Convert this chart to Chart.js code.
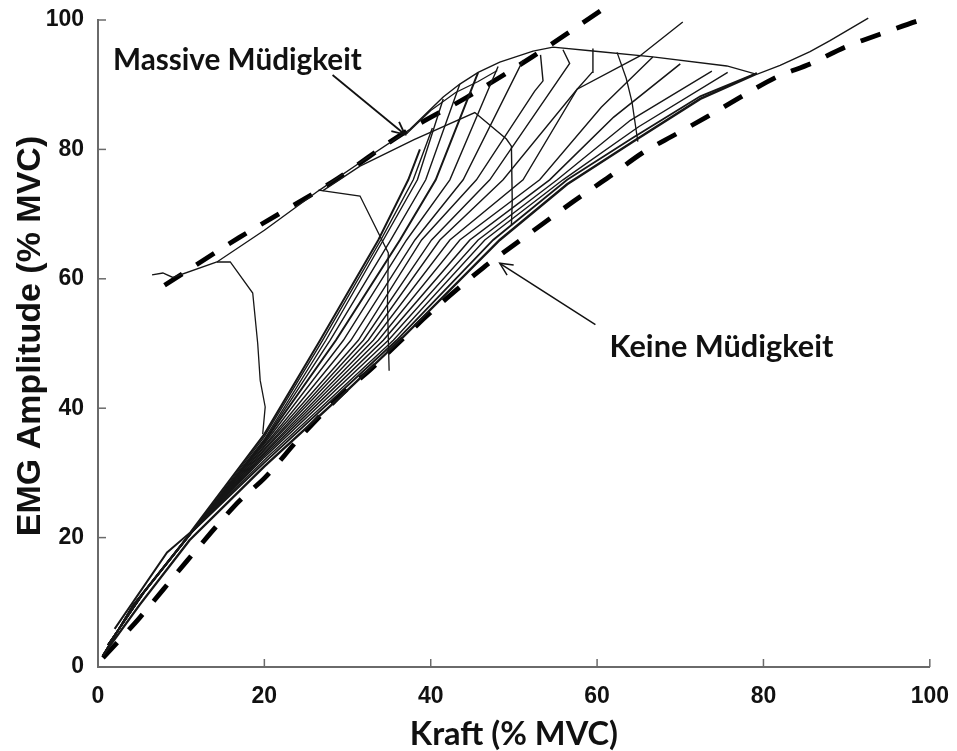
<!DOCTYPE html>
<html lang="de">
<head>
<meta charset="UTF-8">
<title>EMG Amplitude vs Kraft</title>
<script src="https://cdn.jsdelivr.net/npm/chart.js"></script>
<style>
  html, body { margin: 0; padding: 0; background: #fff; }
  #wrap { width: 957px; height: 751px; }
</style>
</head>
<body>
<div id="wrap"><canvas id="emg" width="957" height="751"></canvas></div>
<script>
// tick values
const xTicks = [0, 20, 40, 60, 80, 100];
const yTicks = [0, 20, 40, 60, 80, 100];

// dashed reference lines
const dashedUpper = [[8, 59], [17, 66.4], [28.2, 75], [36.7, 82.5], [44.4, 88.1], [52.2, 94.3], [60.5, 101.5]];
const dashedLower = [[0.6, 1.4], [5, 7.6], [10.7, 16.4], [16.7, 25.3], [20.1, 29.3], [24.3, 35.5], [29.4, 42.3],
  [32.7, 45.9], [39.9, 54.7], [46.3, 61.7], [50.4, 65.6], [57.1, 71.9], [61.5, 75.8], [65.5, 79.5], [69.4, 82.3],
  [73.3, 85.1], [77.4, 88.2], [81.6, 91.2], [85.6, 93.2], [89.8, 95.8], [94, 97.8], [98.4, 99.8], [100, 100.3]];

// no fatigue base trace
const baseLine = [[0.6, 1.8], [5, 9.6], [11, 19.6], [20, 31], [30, 42.8], [36.3, 50.5], [48.3, 66], [56.4, 74.6],
  [64.3, 81.2], [72.4, 87.8], [79.2, 91.7]];

// massive fatigue trace, running into the upper envelope and the tail
const envelope = [[6.5, 60.6], [7.8, 60.9], [9, 60.2], [14.3, 62.6], [20, 67.5], [26.5, 73.6], [32, 78.4], [37.5, 83.1],
  [41.5, 88.1], [43.5, 90.1], [45.7, 91.9], [48.3, 93.5], [52.3, 95.2], [54.7, 95.8], [59.5, 95.2], [66.7, 94.3],
  [75.6, 92.9], [79.2, 91.6], [82, 93], [85.6, 95.1], [88, 96.8], [92.6, 100.3]];
const envelope2 = [[37, 82.3], [40, 86], [43, 88.8], [45.7, 90.5], [48, 92.2]];
const massiveInner = [[27, 73.6], [31.5, 77.4], [38, 81.5], [45.3, 85.7], [49.1, 81.6], [49.7, 80.5], [49.8, 72], [49.7, 68.2]];

// drop traces
const trace16 = [[14.3, 62.6], [15.9, 62.6], [18.6, 57.8], [19.2, 50], [19.5, 44.3], [20.1, 40.2], [19.8, 36]];
const trace27 = [[26.5, 73.7], [31.5, 72.8], [34.9, 64], [34.8, 56], [35, 45.8]];
const trace65 = [[62.4, 95], [63.5, 91], [64.2, 87.3], [64.9, 81.2]];

// start pieces of the ramps near the origin
const startHigh = [[2, 5.9], [8.3, 17.7], [11.1, 20.8]];
const startMid = [[1.2, 3.4], [5.5, 11.5], [11, 20.4]];
const startLow = [[0.6, 1.8], [4.2, 9.5], [11, 20.5]];

// ramps (upper part)
const fanA1 = [[20, 36], [26.7, 50.5], [33.7, 66], [37.3, 75.3], [38.7, 80]];
const fanA2 = [[20, 35.6], [27, 50.5], [34, 66], [37.9, 75.3], [40.2, 83.3]];
const fanA3 = [[20, 35.2], [27.4, 50.5], [34.3, 66], [38.4, 75.3], [41.5, 87.8]];
const fanA4 = [[20, 35], [27.9, 50.5], [35.2, 66], [39.4, 75.3], [43.5, 90.1]];
const fanA5 = [[20, 34.8], [28.6, 50.5], [36.3, 66], [40.6, 75.3], [45.7, 91.9]];
const fanB1 = [[20, 34.5], [29.5, 50.5], [37.1, 66], [42.3, 75.3], [48.1, 92.8]];
const fanB2 = [[20, 34.2], [30.4, 50.5], [38.1, 66], [43.9, 75.3], [51.1, 93.8]];
const fanB3 = [[20, 34], [31.3, 50.5], [38.9, 66], [45.5, 75.3], [52.5, 89], [53.5, 90.6], [53.2, 94.6]];
const fanB4 = [[20, 33.7], [31.9, 50.5], [40.1, 66], [47.1, 75.3], [56.7, 93.3], [55.9, 95.4]];
const fanB5 = [[20, 33.5], [32.5, 50.5], [41.1, 66], [48.7, 75.3], [57.6, 89.3], [59.4, 91.9], [59.5, 95.6]];
const fanB6 = [[20, 33.2], [33.1, 50.5], [42.3, 66], [51.1, 75.3], [57.6, 89.3], [65.1, 94.4], [70.3, 99.7]];
const fanB7 = [[20, 33], [33.7, 50.5], [43.5, 66], [53.1, 75.3], [60.5, 86.5], [66.7, 94.3]];
const fanB8 = [[20, 32.7], [34.3, 50.5], [44.7, 66], [54.3, 75.3], [62, 85], [70, 93.2]];
const fanB9 = [[20, 32.4], [34.9, 50.5], [45.7, 66], [55.2, 75.3], [64, 84.5], [73.8, 92.1]];
const fanC1 = [[20, 32], [35.5, 50.5], [46.5, 66], [55.9, 75.3], [65, 83.5], [75.7, 91.9]];
const fanC2 = [[20, 31.6], [35.9, 50.5], [47.5, 66], [56.4, 75.3], [64.3, 81.8], [72.4, 88.2], [79.2, 91.8]];

const ramps = [
  [startHigh, fanA1, 2], [startMid, fanA2, 1.4], [startMid, fanA3, 1.4], [startMid, fanA4, 1.4], [startMid, fanA5, 2],
  [startMid, fanB1, 1.4], [startMid, fanB2, 1.4], [startMid, fanB3, 1.4], [startMid, fanB4, 1.4], [startMid, fanB5, 1.4],
  [startLow, fanB6, 1.4], [startLow, fanB7, 1.4], [startLow, fanB8, 1.6], [startLow, fanB9, 1.4],
  [startLow, fanC1, 1.4], [startLow, fanC2, 1.8]
];

function pts(arr) { return arr.map(p => ({x: p[0], y: p[1]})); }

function line(arr, width, extra) {
  return Object.assign({
    data: pts(arr),
    showLine: true,
    pointRadius: 0,
    borderColor: '#161616',
    borderWidth: width,
    tension: 0,
    clip: false
  }, extra || {});
}

var datasets = [];
ramps.forEach(function (r) { datasets.push(line(r[0].concat(r[1]), r[2])); });
datasets.push(line(baseLine, 2.4));
datasets.push(line(envelope, 1.4));
datasets.push(line(envelope2, 1.2));
datasets.push(line(massiveInner, 1.4));
datasets.push(line(trace16, 1.3));
datasets.push(line(trace27, 1.3));
datasets.push(line(trace65, 1.3));
datasets.push(line(dashedUpper, 4.8, {borderColor: '#000', borderDash: [21, 17], tension: 0.3}));
datasets.push(line(dashedLower, 4.8, {borderColor: '#000', borderDash: [21, 17], tension: 0.3}));

const AXIS_COLOR = '#6a6a6a';

// draws text scaled so that it spans the given width
function fitText(ctx, text, x, y, width, family) {
  ctx.font = 'bold 30px ' + family;
  const size = 30 * width / ctx.measureText(text).width;
  ctx.font = 'bold ' + size.toFixed(1) + 'px ' + family;
  ctx.fillText(text, x, y);
}

const decorations = {
  id: 'decorations',
  afterDraw(chart) {
    const ctx = chart.ctx;
    const xs = chart.scales.x, ys = chart.scales.y;
    const area = chart.chartArea;
    ctx.save();

    // inward tick marks
    ctx.strokeStyle = AXIS_COLOR;
    ctx.lineWidth = 1.5;
    xTicks.forEach(function (v) {
      const px = xs.getPixelForValue(v);
      ctx.beginPath(); ctx.moveTo(px, area.bottom); ctx.lineTo(px, area.bottom - 8); ctx.stroke();
    });
    yTicks.forEach(function (v) {
      const py = ys.getPixelForValue(v);
      ctx.beginPath(); ctx.moveTo(area.left, py); ctx.lineTo(area.left + 8, py); ctx.stroke();
    });

    // axis titles
    ctx.fillStyle = '#111';
    ctx.textAlign = 'center';
    ctx.textBaseline = 'middle';
    fitText(ctx, 'Kraft (% MVC)', (area.left + area.right) / 2, 734, 208, 'Lato, "Open Sans", sans-serif');
    ctx.save();
    ctx.translate(31, 336);
    ctx.rotate(-Math.PI / 2);
    fitText(ctx, 'EMG Amplitude (% MVC)', 0, 0, 400, '"Liberation Sans", Arial, sans-serif');
    ctx.restore();

    // annotations
    ctx.textAlign = 'left';
    fitText(ctx, 'Massive Müdigkeit', xs.getPixelForValue(1.8), ys.getPixelForValue(93.8), 249, 'Lato, "Open Sans", sans-serif');
    fitText(ctx, 'Keine Müdigkeit', xs.getPixelForValue(61.5), ys.getPixelForValue(49.5), 224, 'Lato, "Open Sans", sans-serif');

    function arrow(x0, y0, x1, y1, w) {
      const ax = xs.getPixelForValue(x0), ay = ys.getPixelForValue(y0);
      const bx = xs.getPixelForValue(x1), by = ys.getPixelForValue(y1);
      const ang = Math.atan2(by - ay, bx - ax);
      ctx.strokeStyle = '#111';
      ctx.lineWidth = w;
      ctx.beginPath(); ctx.moveTo(ax, ay); ctx.lineTo(bx, by); ctx.stroke();
      ctx.beginPath();
      ctx.moveTo(bx - 14 * Math.cos(ang - 0.45), by - 14 * Math.sin(ang - 0.45));
      ctx.lineTo(bx, by);
      ctx.lineTo(bx - 14 * Math.cos(ang + 0.45), by - 14 * Math.sin(ang + 0.45));
      ctx.stroke();
    }
    arrow(28.2, 91.5, 36.9, 82.3, 1.8);
    arrow(59.8, 52.9, 48.3, 62.4, 1.5);

    ctx.restore();
  }
};

const tickFont = {family: '"Liberation Sans", Arial, sans-serif', size: 23, weight: 'bold'};

new Chart(document.getElementById('emg'), {
  type: 'scatter',
  data: {datasets: datasets},
  options: {
    responsive: false,
    animation: false,
    devicePixelRatio: 1,
    layout: {padding: {top: 20, right: 26, left: 0, bottom: 0}},
    plugins: {legend: {display: false}, tooltip: {enabled: false}},
    scales: {
      x: {
        type: 'linear', min: 0, max: 100,
        afterFit: function (s) { s.height = 84; },
        ticks: {stepSize: 20, color: '#111', font: tickFont, padding: 8, maxRotation: 0},
        grid: {display: false},
        border: {display: true, color: AXIS_COLOR, width: 2}
      },
      y: {
        type: 'linear', min: 0, max: 100,
        afterFit: function (s) { s.width = 98; },
        ticks: {stepSize: 20, color: '#111', font: tickFont, padding: 6},
        grid: {display: false},
        border: {display: true, color: AXIS_COLOR, width: 2}
      }
    }
  },
  plugins: [decorations]
});
</script>
</body>
</html>
